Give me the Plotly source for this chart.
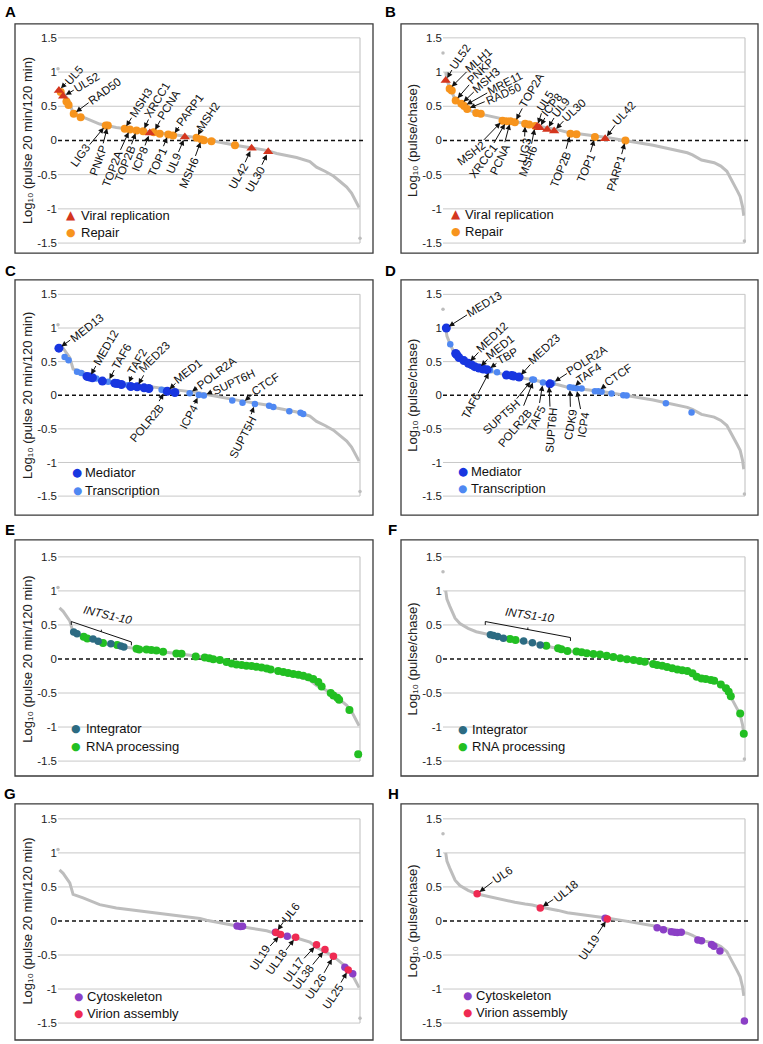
import plotly.graph_objects as go

W, H = 763, 1044

# ---------------- background distributions (rank %, log10 ratio) ----------------
left_rank = [0.5, 1.7, 3.9, 4.5, 5.0, 8.3, 13.8, 19.3, 24.9, 30.4, 35.9, 41.4, 47.0, 49.2, 52.5,
             58.0, 60.2, 69.1, 72.4, 75.7, 79.0, 83.4, 85.6, 88.4, 91.2, 93.4, 95.6, 97.2, 98.3, 99.7]
left_log = [0.75, 0.70, 0.56, 0.45, 0.39, 0.34, 0.24, 0.19, 0.16, 0.13, 0.10, 0.07, 0.035, 0.01, -0.02,
            -0.06, -0.08, -0.145, -0.19, -0.22, -0.25, -0.31, -0.39, -0.45, -0.52, -0.60, -0.68, -0.77, -0.87, -0.98]
left_out_rank = [0.0, 100.0]
left_out_log = [1.05, -1.43]

right_rank = [0.9, 1.3, 2.2, 3.3, 4.0, 5.6, 8.3, 11.0, 15.7, 20.0, 23.8, 27.2, 29.6, 32.2, 34.2, 38.1, 41.2,
              44.2, 49.8, 54.2, 58.7, 60.9, 65.1, 69.6, 72.6, 75.9, 79.2, 80.9, 82.6, 85.6, 89.8, 92.0,
              94.0, 95.3, 96.5, 97.5, 98.4, 99.2, 99.6]
right_log = [1.0, 0.88, 0.78, 0.68, 0.60, 0.52, 0.45, 0.40, 0.355, 0.305, 0.275, 0.25, 0.235, 0.205, 0.19,
             0.155, 0.12, 0.105, 0.07, 0.045, 0.012, -0.005, -0.03, -0.07, -0.10, -0.135, -0.165, -0.18,
             -0.21, -0.285, -0.325, -0.375, -0.45, -0.55, -0.66, -0.74, -0.82, -0.97, -1.10]
right_out_rank = [0.0, 99.8]
right_out_log = [1.28, -1.47]

# ---------------- panel A ----------------
A_viral_rank = [0.3, 1.7, 30.4, 42.0, 64.1, 69.6]
A_viral_log = [0.73, 0.645, 0.11, 0.05, -0.115, -0.165]
A_viral_gene = ["UL5", "UL52", "ICP8", "UL9", "UL42", "UL30"]
A_repair_rank = [0.9, 2.8, 3.5, 5.2, 7.5, 15.8, 16.5, 22.1, 23.8, 26.0, 28.2, 31.7, 33.7, 36.5, 38.1,
                 45.9, 47.5, 48.3, 50.8, 58.6]
A_repair_log = [0.71, 0.57, 0.52, 0.39, 0.34, 0.22, 0.22, 0.17, 0.16, 0.145, 0.135, 0.12, 0.10, 0.087,
                0.073, 0.04, 0.015, 0.005, -0.01, -0.07]
A_repair_gene = ["", "", "", "RAD50", "", "LIG3", "PNKP", "MSH3", "TOP2A", "TOP2B", "XRCC1", "PCNA", "",
                 "TOP1", "PARP1", "MSH2", "MSH6", "", "", ""]

# ---------------- panel B ----------------
B_viral_rank = [0.9, 31.2, 32.0, 34.5, 36.8, 53.7]
B_viral_log = [0.875, 0.205, 0.185, 0.16, 0.14, 0.025]
B_viral_gene = ["UL52", "UL5", "ICP8", "UL9", "UL30", "UL42"]
B_repair_rank = [2.2, 2.9, 4.2, 6.1, 7.0, 8.0, 11.0, 12.5, 19.7, 21.0, 22.3, 23.8, 27.2, 28.5, 30.5,
                 42.2, 44.2, 50.3, 60.4]
B_repair_log = [0.755, 0.73, 0.585, 0.535, 0.505, 0.46, 0.40, 0.39, 0.29, 0.28, 0.28, 0.265, 0.245,
                0.235, 0.21, 0.10, 0.09, 0.05, 0.0]
B_repair_gene = ["MLH1", "", "PNKP", "MSH3", "MRE11", "RAD50", "", "", "MSH2", "XRCC1", "PCNA", "TOP2A",
                 "LIG3", "", "MSH6", "TOP2B", "", "TOP1", "PARP1"]

# ---------------- panel C ----------------
C_mediator_rank = [0.3, 9.6, 10.5, 11.4, 14.7, 18.8, 19.6, 21.0, 24.1, 26.2, 28.5, 30.1, 36.2, 38.7]
C_mediator_log = [0.70, 0.28, 0.27, 0.26, 0.21, 0.18, 0.175, 0.16, 0.13, 0.125, 0.11, 0.10, 0.06, 0.04]
C_mediator_gene = ["MED13", "", "MED12", "", "", "", "", "", "", "MED23", "", "", "MED1", ""]
C_trans_rank = [2.2, 3.5, 6.3, 7.7, 12.7, 16.6, 23.2, 24.9, 34.3, 35.4, 43.6, 46.6, 48.3, 57.7, 61.1,
                65.2, 69.9, 71.3, 76.6, 80.3, 81.2]
C_trans_log = [0.57, 0.52, 0.35, 0.33, 0.25, 0.20, 0.15, 0.135, 0.08, 0.065, 0.03, 0.005, -0.005, -0.08,
               -0.11, -0.13, -0.155, -0.175, -0.24, -0.26, -0.28]
C_trans_gene = ["", "", "", "", "", "TAF6", "TAF2", "", "", "POLR2B", "POLR2A", "ICP4", "SUPT6H", "",
                "CTCF", "SUPT5H", "", "", "", "", ""]

# ---------------- panel D ----------------
D_mediator_rank = [1.1, 4.2, 4.6, 5.3, 6.9, 8.4, 9.4, 10.5, 11.9, 13.3, 14.6, 21.0, 22.7, 23.4, 25.2, 35.4]
D_mediator_log = [1.0, 0.62, 0.60, 0.56, 0.515, 0.475, 0.455, 0.425, 0.405, 0.39, 0.38, 0.30, 0.295,
                  0.285, 0.27, 0.17]
D_mediator_gene = ["MED13", "", "", "", "", "MED12", "", "", "MED1", "", "", "", "", "", "MED23", ""]
D_trans_rank = [2.4, 14.9, 15.6, 17.9, 29.6, 30.1, 33.1, 35.1, 36.2, 42.0, 43.1, 44.2, 45.9, 50.3, 51.4,
                52.5, 55.8, 59.7, 60.8, 73.8, 82.3]
D_trans_log = [0.76, 0.38, 0.37, 0.34, 0.235, 0.23, 0.19, 0.17, 0.18, 0.12, 0.11, 0.105, 0.10, 0.06,
               0.06, 0.05, 0.025, 0.0, -0.005, -0.12, -0.255]
D_trans_gene = ["", "TBP", "TAF6", "", "SUPT5H", "POLR2B", "TAF5", "SUPT6H", "POLR2A", "CDK9", "TAF4",
                "ICP4", "", "", "CTCF", "", "", "", "", "", ""]

# ---------------- panel E ----------------
E_integrator_rank = [5.2, 6.3, 11.6, 13.3, 17.5, 20.8, 21.8]
E_integrator_log = [0.395, 0.37, 0.295, 0.26, 0.225, 0.19, 0.175]
E_rna_rank = [8.5, 9.7, 14.9, 19.6, 26.0, 26.9, 29.3, 30.9, 32.6, 34.8, 39.2, 40.9, 45.6, 48.6, 50.1,
              51.4, 53.6, 55.8, 57.5, 59.1, 60.8, 62.4, 64.1, 65.7, 67.4, 69.1, 70.4, 72.9, 74.6, 76.2,
              77.9, 79.6, 81.2, 82.9, 84.5, 86.2, 87.3, 90.3, 91.2, 92.5, 93.1, 96.5, 99.4]
E_rna_log = [0.325, 0.30, 0.235, 0.205, 0.15, 0.14, 0.14, 0.13, 0.125, 0.105, 0.08, 0.078, 0.035, 0.02,
             0.01, -0.005, -0.015, -0.045, -0.065, -0.08, -0.09, -0.10, -0.105, -0.115, -0.125, -0.14,
             -0.155, -0.175, -0.19, -0.205, -0.22, -0.23, -0.245, -0.27, -0.295, -0.34, -0.405, -0.50,
             -0.535, -0.57, -0.60, -0.75, -1.40]

# ---------------- panel F ----------------
F_integrator_rank = [15.7, 16.7, 18.1, 20.0, 26.7, 29.6, 32.2]
F_integrator_log = [0.355, 0.345, 0.33, 0.305, 0.265, 0.24, 0.205]
F_rna_rank = [22.2, 24.0, 34.2, 38.1, 39.2, 41.2, 44.2, 45.9, 47.6, 49.8, 52.0, 54.2, 56.4, 58.7, 60.9,
              63.1, 65.1, 66.8, 69.6, 70.9, 72.6, 74.2, 75.9, 77.6, 79.2, 80.9, 82.6, 84.0, 85.6, 87.0,
              88.7, 89.8, 92.0, 93.7, 94.6, 95.3, 98.4, 99.6]
F_rna_log = [0.295, 0.28, 0.195, 0.157, 0.143, 0.118, 0.108, 0.098, 0.084, 0.074, 0.064, 0.049, 0.03,
             0.01, -0.005, -0.015, -0.03, -0.04, -0.074, -0.089, -0.10, -0.118, -0.138, -0.153, -0.167,
             -0.177, -0.21, -0.26, -0.286, -0.296, -0.31, -0.32, -0.374, -0.43, -0.48, -0.547, -0.80, -1.10]

# ---------------- panel G ----------------
G_cyto_rank = [59.3, 60.4, 61.1, 72.0, 75.9, 95.0, 97.6]
G_cyto_log = [-0.075, -0.08, -0.078, -0.165, -0.225, -0.68, -0.775]
G_virion_rank = [72.2, 73.7, 78.7, 85.6, 88.4, 91.2, 96.1]
G_virion_log = [-0.17, -0.20, -0.24, -0.35, -0.42, -0.52, -0.72]
G_virion_gene = ["UL6", "UL19", "UL18", "UL17", "UL38", "UL26", "UL25"]

# ---------------- panel H ----------------
H_cyto_rank = [53.7, 70.9, 73.0, 75.6, 76.7, 77.6, 78.9, 84.4, 85.6, 88.9, 89.7, 91.7, 99.8]
H_cyto_log = [0.04, -0.10, -0.13, -0.16, -0.165, -0.17, -0.165, -0.28, -0.29, -0.345, -0.37, -0.44, -1.47]
H_virion_rank = [11.3, 32.2, 54.4]
H_virion_log = [0.40, 0.19, 0.03]
H_virion_gene = ["UL6", "UL18", "UL19"]

tick_vals = [1.5, 1, 0.5, 0, -0.5, -1, -1.5]
tick_text = ["1.5", "1", "0.5", "0", "-0.5", "-1", "-1.5"]
left_title = "Log\u2081\u2080 (pulse 20 min/120 min)"
right_title = "Log\u2081\u2080 (pulse/chase)"
bracket_text = "INTS1-10"

# ---------------- styles ----------------
FONT = "Liberation Sans, Arial, sans-serif"
GRAY = "#bdbdbd"
GRID = "#c8c8c8"
STYLE = {
    "Viral replication": dict(symbol="triangle-up", color="#d4361e", size=9, glyph="\u25B2", gsize=12),
    "Repair": dict(symbol="circle", color="#f7941d", size=8, glyph="\u25CF", gsize=11),
    "Mediator": dict(symbol="circle", color="#1836e0", size=9, glyph="\u25CF", gsize=11.5),
    "Transcription": dict(symbol="circle", color="#4f88f2", size=6.5, glyph="\u25CF", gsize=10.5),
    "Integrator": dict(symbol="circle", color="#2c6b82", size=7.5, glyph="\u25CF", gsize=11),
    "RNA processing": dict(symbol="circle", color="#22bf22", size=8, glyph="\u25CF", gsize=11),
    "Cytoskeleton": dict(symbol="circle", color="#8b3fc6", size=7.5, glyph="\u25CF", gsize=10.5),
    "Virion assembly": dict(symbol="circle", color="#ef2a52", size=7.5, glyph="\u25CF", gsize=10.5),
}

# label placement: gene -> (text-centre dx px, dy px from the marker, text angle)
A_lab = {"UL5": (15, -16, -48), "UL52": (24, -14, -31), "RAD50": (31, -23, -36), "MSH3": (16, -26, -57),
         "XRCC1": (14, -31, -59), "PCNA": (15, -27, -58), "PARP1": (17, -25, -53), "MSH2": (11, -21, -56),
         "LIG3": (-25, 30, -54), "PNKP": (-9, 35, -70), "TOP2A": (-18, 39, -69), "TOP2B": (-12, 33, -68),
         "ICP8": (-10, 26, -68), "TOP1": (-11, 27, -65), "UL9": (-11, 26, -67), "MSH6": (-12, 33, -66),
         "UL42": (-13, 28, -60), "UL30": (-13, 27, -60)}
B_lab = {"UL52": (14, -24, -55), "MLH1": (29, -29, -41), "PNKP": (25, -29, -43), "MSH3": (25, -24, -41),
         "MRE11": (41, -23, -27), "RAD50": (36, -15, -24), "TOP2A": (17, -32, -60), "UL5": (8, -25, -57),
         "ICP8": (12, -23, -51), "UL9": (13, -22, -51), "UL30": (20, -21, -43), "UL42": (19, -26, -47),
         "MSH2": (-31, 32, -37), "XRCC1": (-23, 40, -53), "PCNA": (-10, 38, -65), "LIG3": (-1, 27, -78),
         "MSH6": (-7, 35, -69), "TOP2B": (-10, 35, -68), "TOP1": (-9, 31, -67), "PARP1": (-9, 33, -72)}
C_lab = {"MED13": (28, -20, -38), "MED12": (16, -29, -60), "TAF6": (13, -25, -60), "TAF2": (9, -23, -60),
         "MED23": (17, -30, -45), "MED1": (21, -20, -38), "POLR2A": (27, -20, -37), "SUPT6H": (30, -14, -25),
         "CTCF": (23, -19, -34), "POLR2B": (-18, 32, -50), "ICP4": (-10, 22, -62), "SUPT5H": (-12, 33, -63)}
D_lab = {"MED13": (38, -24, -31), "MED12": (24, -26, -43), "MED1": (21, -21, -38), "TBP": (19, -14, -29),
         "MED23": (25, -28, -43), "POLR2A": (35, -23, -32), "TAF4": (16, -15, -34), "CTCF": (20, -16, -34),
         "TAF6": (-19, 36, -62), "SUPT5H": (-31, 38, -42), "POLR2B": (-19, 48, -50), "TAF5": (-6, 36, -63),
         "SUPT6H": (2, 47, -85), "CDK9": (1, 37, -80), "ICP4": (7, 36, -81)}
G_lab = {"UL6": (14, -20, -52), "UL19": (-21, 23, -57), "UL18": (-19, 25, -55), "UL17": (-23, 25, -54),
         "UL38": (-22, 27, -54), "UL26": (-17, 30, -56), "UL25": (-15, 26, -56)}
H_lab = {"UL6": (25, -19, -34), "UL18": (26, -17, -39), "UL19": (-18, 28, -55)}

# geometry (px)
PLOT_X = [(58, 360), (443, 745)]
PLOT_Y = [(36, 242), (293.5, 496), (557, 762), (820, 1025)]
BOX_X = [(15, 373), (401, 758)]
BOX_Y = [(22, 252), (279, 515), (540, 777), (805, 1042)]
YR = 1.56

PANELS = [
    ("A", 0, 0, "L", [("Repair", A_repair_rank, A_repair_log, A_repair_gene),
                      ("Viral replication", A_viral_rank, A_viral_log, A_viral_gene)],
     ["Viral replication", "Repair"], A_lab, (71, 79, 214, 231), None),
    ("B", 0, 1, "R", [("Repair", B_repair_rank, B_repair_log, B_repair_gene),
                      ("Viral replication", B_viral_rank, B_viral_log, B_viral_gene)],
     ["Viral replication", "Repair"], B_lab, (456, 463, 213, 230), None),
    ("C", 1, 0, "L", [("Transcription", C_trans_rank, C_trans_log, C_trans_gene),
                      ("Mediator", C_mediator_rank, C_mediator_log, C_mediator_gene)],
     ["Mediator", "Transcription"], C_lab, (77, 83, 472, 490), None),
    ("D", 1, 1, "R", [("Transcription", D_trans_rank, D_trans_log, D_trans_gene),
                      ("Mediator", D_mediator_rank, D_mediator_log, D_mediator_gene)],
     ["Mediator", "Transcription"], D_lab, (463, 469, 471, 488), None),
    ("E", 2, 0, "L", [("RNA processing", E_rna_rank, E_rna_log, None),
                      ("Integrator", E_integrator_rank, E_integrator_log, None)],
     ["Integrator", "RNA processing"], {}, (76, 84, 729, 747),
     dict(x0=4.4, y0=0.55, x1=24.3, y1=0.25, tx=16.6, ty=0.65, ang=13)),
    ("F", 2, 1, "R", [("RNA processing", F_rna_rank, F_rna_log, None),
                      ("Integrator", F_integrator_rank, F_integrator_log, None)],
     ["Integrator", "RNA processing"], {}, (463, 470, 730, 747),
     dict(x0=14.0, y0=0.55, x1=42.2, y1=0.315, tx=28.7, ty=0.65, ang=8)),
    ("G", 3, 0, "L", [("Cytoskeleton", G_cyto_rank, G_cyto_log, None),
                      ("Virion assembly", G_virion_rank, G_virion_log, G_virion_gene)],
     ["Cytoskeleton", "Virion assembly"], G_lab, (78, 85, 998, 1015), None),
    ("H", 3, 1, "R", [("Cytoskeleton", H_cyto_rank, H_cyto_log, None),
                      ("Virion assembly", H_virion_rank, H_virion_log, H_virion_gene)],
     ["Cytoskeleton", "Virion assembly"], H_lab, (467, 474, 997, 1014), None),
]
LETTER_POS = {"A": (10, 10), "B": (390, 10), "C": (10, 270), "D": (390, 270),
              "E": (10, 530), "F": (392, 530), "G": (10, 795), "H": (393, 795)}


def px(x):
    return x / W


def py(y):
    return 1 - y / H


LAB_FS = 11.5
fig = go.Figure()
layout = {}
shapes = []
annotations = []

for i, (letter, row, col, curve, groups, legend_order, labst, leg, bracket) in enumerate(PANELS, start=1):
    xa = "x" if i == 1 else f"x{i}"
    ya = "y" if i == 1 else f"y{i}"
    xk = "xaxis" if i == 1 else f"xaxis{i}"
    yk = "yaxis" if i == 1 else f"yaxis{i}"
    x0, x1 = PLOT_X[col]
    T, B = PLOT_Y[row]
    ppu = (B - T) / 3.0
    top = T - (YR - 1.5) * ppu
    bot = B + (YR - 1.5) * ppu
    layout[xk] = dict(domain=[px(x0), px(x1)], range=[0, 100], anchor=ya, showgrid=False,
                      zeroline=False, showline=False, showticklabels=False, ticks="", fixedrange=True)
    layout[yk] = dict(domain=[py(bot), py(top)], range=[-YR, YR], anchor=xa, showgrid=False,
                      zeroline=False, showline=False, ticks="", tickvals=tick_vals, ticktext=tick_text,
                      tickfont=dict(family=FONT, size=11.5, color="#222"), fixedrange=True,
                      title=dict(text=left_title if col == 0 else right_title, standoff=1,
                                 font=dict(family=FONT, size=13, color="#222")))

    cr, cl = (left_rank, left_log) if curve == "L" else (right_rank, right_log)
    orr, orl = (left_out_rank, left_out_log) if curve == "L" else (right_out_rank, right_out_log)
    fig.add_trace(go.Scatter(x=cr, y=cl, mode="lines", line=dict(color=GRAY, width=3),
                             xaxis=xa, yaxis=ya, showlegend=False, hoverinfo="skip", cliponaxis=False))
    fig.add_trace(go.Scatter(x=orr, y=orl, mode="markers", marker=dict(color=GRAY, size=3.5),
                             xaxis=xa, yaxis=ya, showlegend=False, hoverinfo="skip", cliponaxis=False))
    for name, rk, lg, genes in groups:
        st = STYLE[name]
        fig.add_trace(go.Scatter(x=rk, y=lg, mode="markers", name=name,
                                 marker=dict(symbol=st["symbol"], color=st["color"], size=st["size"],
                                             line=dict(width=0)),
                                 xaxis=xa, yaxis=ya, showlegend=False, cliponaxis=False))
        if genes:
            for gx, gy, g in zip(rk, lg, genes):
                if not g or g not in labst:
                    continue
                dx, dy, ang = labst[g]
                annotations.append(dict(
                    x=gx, y=gy, xref=xa, yref=ya, text=g, showarrow=True, ax=dx, ay=dy,
                    textangle=ang, arrowhead=2, arrowsize=1.1, arrowwidth=1, arrowcolor="#111",
                    standoff=3, font=dict(family=FONT, size=LAB_FS, color="#111")))

    for v in [1.5, 1, 0.5, -0.5, -1, -1.5]:
        shapes.append(dict(type="line", xref=f"{xa} domain", yref=ya, x0=0, x1=1, y0=v, y1=v,
                           line=dict(color=GRID, width=1), layer="below"))
    shapes.append(dict(type="line", xref=f"{xa} domain", yref=ya, x0=1, x1=1, y0=-1.5, y1=1.5,
                       line=dict(color=GRID, width=1.2), layer="below"))
    shapes.append(dict(type="line", xref=f"{xa} domain", yref=ya, x0=0, x1=1.015, y0=0, y1=0,
                       line=dict(color="#111", width=1.5, dash="4px,3px"), layer="below"))
    bx0, bx1 = BOX_X[col]
    by0, by1 = BOX_Y[row]
    shapes.append(dict(type="rect", xref="paper", yref="paper", x0=px(bx0), x1=px(bx1),
                       y0=py(by1), y1=py(by0), line=dict(color="#3a3a3a", width=1.3)))
    lx, ly = LETTER_POS[letter]
    annotations.append(dict(x=px(lx), y=py(ly), xref="paper", yref="paper", text=letter,
                            showarrow=False, xanchor="center", yanchor="middle",
                            font=dict(family=FONT, size=15, color="#000", weight="bold")))
    sx, tx, y1, y2 = leg
    for nm, yy in zip(legend_order, [y1, y2]):
        st = STYLE[nm]
        annotations.append(dict(x=px(sx), y=py(yy), xref="paper", yref="paper", text=st["glyph"],
                                showarrow=False, xanchor="center", yanchor="middle",
                                font=dict(family="DejaVu Sans", size=st["gsize"], color=st["color"])))
        annotations.append(dict(x=px(tx), y=py(yy), xref="paper", yref="paper", text=nm,
                                showarrow=False, xanchor="left", yanchor="middle",
                                font=dict(family=FONT, size=13, color="#111")))
    if bracket:
        b = bracket
        ln = dict(color="#111", width=1)
        shapes.append(dict(type="line", xref=xa, yref=ya, x0=b["x0"], y0=b["y0"], x1=b["x1"], y1=b["y1"], line=ln))
        shapes.append(dict(type="line", xref=xa, yref=ya, x0=b["x0"], y0=b["y0"], x1=b["x0"], y1=b["y0"] - 0.05, line=ln))
        shapes.append(dict(type="line", xref=xa, yref=ya, x0=b["x1"], y0=b["y1"], x1=b["x1"], y1=b["y1"] - 0.05, line=ln))
        mx, my = (b["x0"] + b["x1"]) / 2, (b["y0"] + b["y1"]) / 2
        shapes.append(dict(type="line", xref=xa, yref=ya, x0=mx, y0=my, x1=mx, y1=my + 0.03, line=ln))
        annotations.append(dict(x=b["tx"], y=b["ty"], xref=xa, yref=ya, text=bracket_text,
                                showarrow=False, textangle=b["ang"],
                                font=dict(family=FONT, size=11.5, color="#111", style="italic")))

fig.update_layout(width=W, height=H, margin=dict(l=0, r=0, t=0, b=0), showlegend=False,
                  plot_bgcolor="white", paper_bgcolor="white", shapes=shapes, annotations=annotations,
                  font=dict(family=FONT), **layout)
# remove the browser's default 8px page margin so the 763x1044 figure fills the window exactly
fig.write_html("out.html", config={"displayModeBar": False},
               post_script="document.body.style.margin='0';document.body.style.overflow='hidden';")
